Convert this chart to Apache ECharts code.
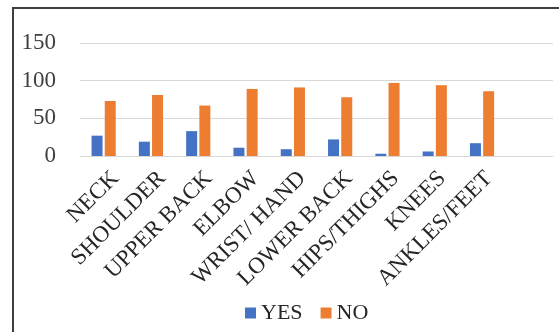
<!DOCTYPE html>
<html>
<head>
<meta charset="utf-8">
<script src="https://cdn.jsdelivr.net/npm/echarts@6/dist/echarts.min.js"></script>
<style>
html,body{margin:0;padding:0;background:#fff;}
#c{width:559px;height:332px;}
</style>
</head>
<body>
<div id="c"></div>
<script>
// categories (the last one is the empty slot at the right of the plot)
var categories = ['NECK', 'SHOULDER', 'UPPER BACK', 'ELBOW', 'WRIST/ HAND', 'LOWER BACK', 'HIPS/THIGHS', 'KNEES', 'ANKLES/FEET', ''];
var yesValues = [27, 19, 33, 11, 9, 22, 3, 6, 17, null];
var noValues = [73, 81, 67, 89, 91, 78, 97, 94, 86, null];
var seriesNames = ['YES', 'NO'];
var yTicks = { min: 0, max: 150, interval: 50 };

var FONT = '"Liberation Serif", "Times New Roman", serif';
var chart = echarts.init(document.getElementById('c'), null, { renderer: 'canvas' });
chart.setOption({
  animation: false,
  backgroundColor: '#ffffff',
  grid: [
    { left: 80, top: 43, width: 473, height: 113, containLabel: false },
    { left: 92, top: 43, width: 473, height: 113, containLabel: false }
  ],
  legend: {
    data: seriesNames,
    left: 245,
    top: 302,
    padding: 0,
    itemWidth: 11,
    itemHeight: 11,
    itemGap: 18,
    icon: 'rect',
    textStyle: { fontFamily: FONT, fontSize: 22, color: '#262626' }
  },
  xAxis: [
    {
      type: 'category',
      gridIndex: 0,
      data: categories,
      axisLine: { show: true, lineStyle: { color: '#d9d9d9', width: 1 } },
      axisTick: { show: false },
      axisLabel: { show: false },
      splitLine: { show: false }
    },
    {
      type: 'category',
      gridIndex: 1,
      data: categories,
      axisLine: { show: false },
      axisTick: { show: false },
      splitLine: { show: false },
      axisLabel: {
        show: true,
        interval: 0,
        rotate: 45,
        margin: 19,
        fontFamily: FONT,
        fontSize: 23,
        color: '#262626'
      }
    }
  ],
  yAxis: [
    {
      type: 'value',
      gridIndex: 0,
      min: yTicks.min,
      max: yTicks.max,
      interval: yTicks.interval,
      axisLine: { show: false },
      axisTick: { show: false },
      splitLine: { show: true, lineStyle: { color: '#d9d9d9', width: 1 } },
      axisLabel: { margin: 24, fontFamily: FONT, fontSize: 23, color: '#404040' }
    },
    {
      type: 'value',
      gridIndex: 1,
      min: yTicks.min,
      max: yTicks.max,
      show: false
    }
  ],
  series: [
    {
      name: seriesNames[0],
      type: 'bar',
      xAxisIndex: 0,
      yAxisIndex: 0,
      data: yesValues,
      barWidth: 11,
      barGap: '20%',
      itemStyle: { color: '#4472C4' }
    },
    {
      name: seriesNames[1],
      type: 'bar',
      xAxisIndex: 0,
      yAxisIndex: 0,
      data: noValues,
      barWidth: 11,
      barGap: '20%',
      itemStyle: { color: '#ED7D31' }
    }
  ],
  graphic: [
    { type: 'line', shape: { x1: 13, y1: 7, x2: 13, y2: 332 }, style: { stroke: '#3f3f3f', lineWidth: 2 } },
    { type: 'line', shape: { x1: 12, y1: 8, x2: 559, y2: 8 }, style: { stroke: '#3f3f3f', lineWidth: 2 } }
  ]
});
</script>
</body>
</html>
